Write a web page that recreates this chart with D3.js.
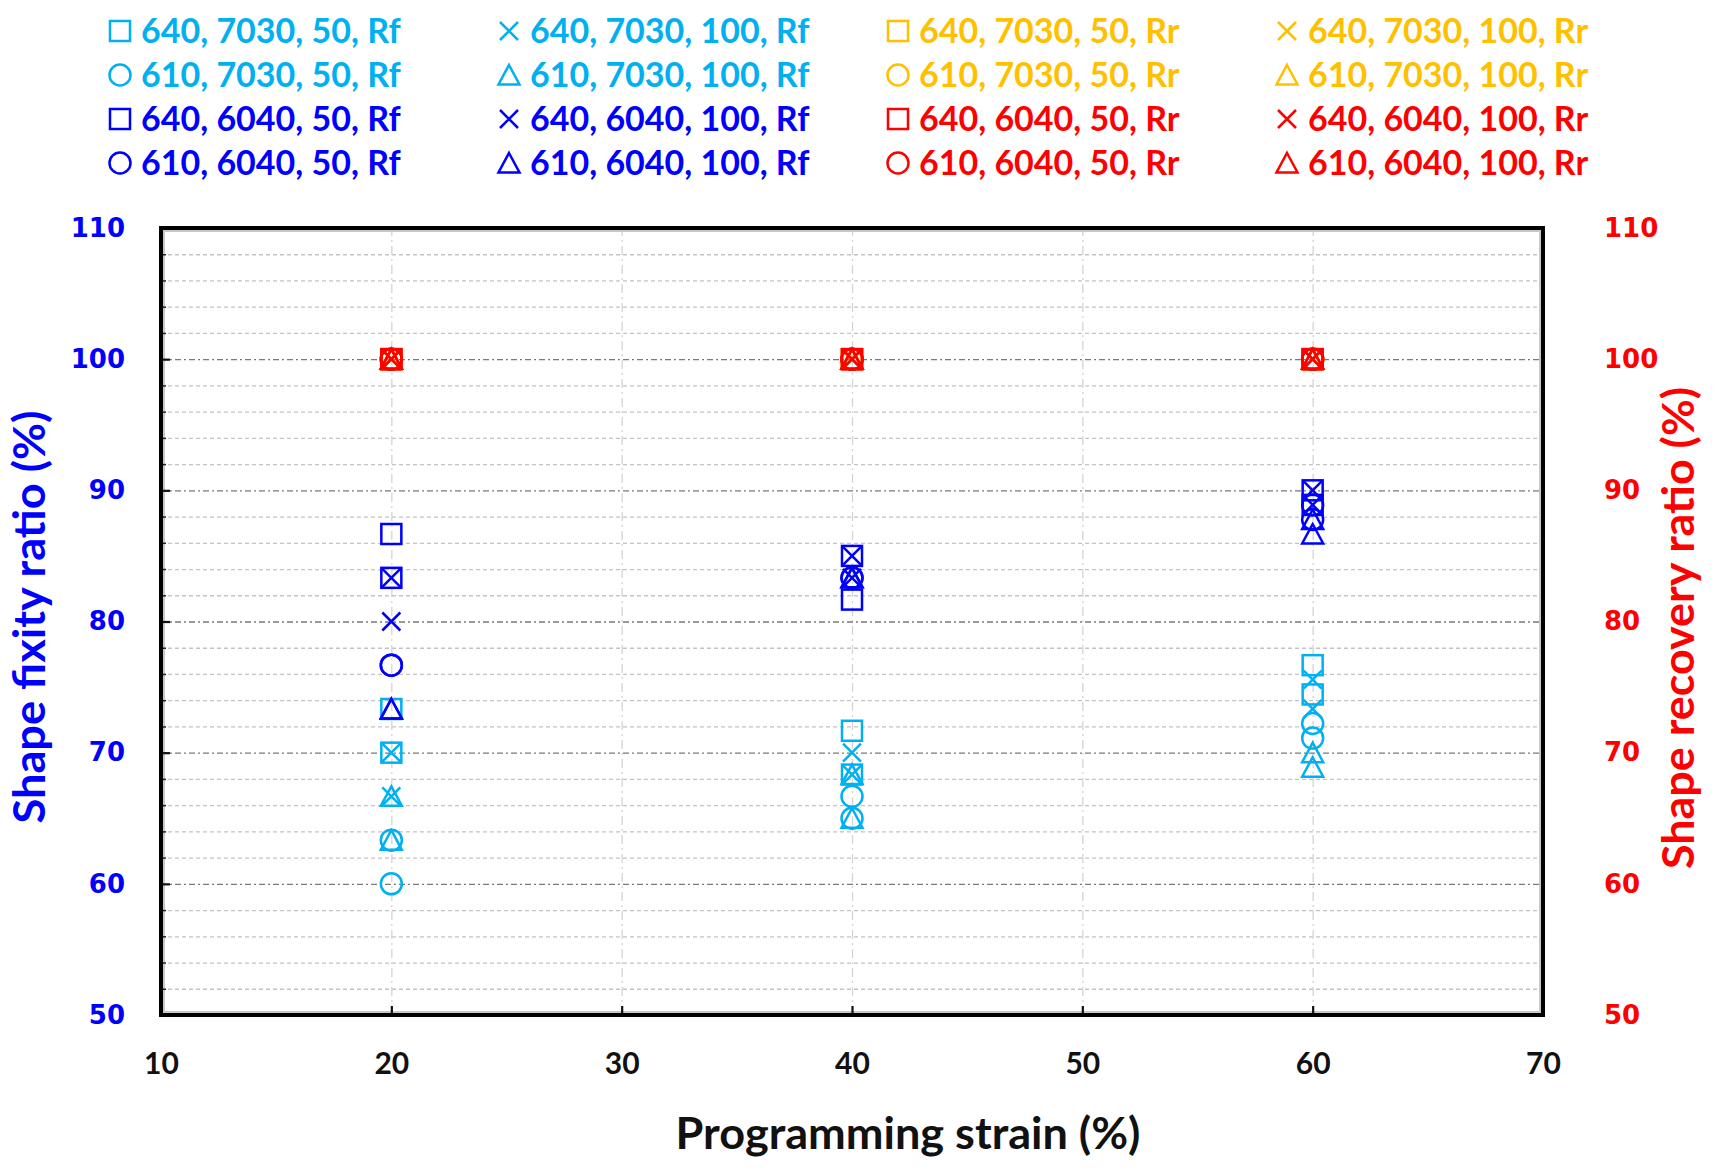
<!DOCTYPE html>
<html>
<head>
<meta charset="utf-8">
<script src="https://cdn.jsdelivr.net/npm/d3@7"></script>
<style>
  body { margin: 0; background: #fff; }
  svg { display: block; }
</style>
</head>
<body>
<div class="main"></div>
<script>
const width = 1716;
const height = 1174;
const plot = { left: 161, right: 1543, top: 228, bottom: 1015 };

const strains = [20, 40, 60];
const xTicks = [10, 20, 30, 40, 50, 60, 70];
const yTicks = [50, 60, 70, 80, 90, 100, 110];

// two readings per strain level (20, 40, 60 %)
const rf_640_7030_50 = [[73.33, 70.00], [71.67, 68.33], [76.67, 74.44]];
const rf_640_7030_100 = [[70.00, 66.67], [70.00, 68.33], [75.56, 73.33]];
const rf_610_7030_50 = [[63.33, 60.00], [66.67, 65.00], [72.22, 71.11]];
const rf_610_7030_100 = [[66.67, 63.33], [68.33, 65.00], [70.00, 68.89]];
const rf_640_6040_50 = [[86.67, 83.33], [85.00, 81.67], [90.00, 88.89]];
const rf_640_6040_100 = [[83.33, 80.00], [85.00, 83.33], [90.00, 88.89]];
const rf_610_6040_50 = [[76.67, 76.67], [83.33, 83.33], [88.89, 87.78]];
const rf_610_6040_100 = [[73.33, 73.33], [83.33, 83.33], [87.78, 86.67]];
const rr_640_7030_50 = [[100, 100], [100, 100], [100, 100]];
const rr_640_7030_100 = [[100, 100], [100, 100], [100, 100]];
const rr_610_7030_50 = [[100, 100], [100, 100], [100, 100]];
const rr_610_7030_100 = [[100, 100], [100, 100], [100, 100]];
const rr_640_6040_50 = [[100, 100], [100, 100], [100, 100]];
const rr_640_6040_100 = [[100, 100], [100, 100], [100, 100]];
const rr_610_6040_50 = [[100, 100], [100, 100], [100, 100]];
const rr_610_6040_100 = [[100, 100], [100, 100], [100, 100]];

// legend / drawing order (row by row, 4 per row)
const seriesNames = [
  "640, 7030, 50, Rf", "640, 7030, 100, Rf", "640, 7030, 50, Rr", "640, 7030, 100, Rr",
  "610, 7030, 50, Rf", "610, 7030, 100, Rf", "610, 7030, 50, Rr", "610, 7030, 100, Rr",
  "640, 6040, 50, Rf", "640, 6040, 100, Rf", "640, 6040, 50, Rr", "640, 6040, 100, Rr",
  "610, 6040, 50, Rf", "610, 6040, 100, Rf", "610, 6040, 50, Rr", "610, 6040, 100, Rr"
];
const seriesValues = [
  rf_640_7030_50, rf_640_7030_100, rr_640_7030_50, rr_640_7030_100,
  rf_610_7030_50, rf_610_7030_100, rr_610_7030_50, rr_610_7030_100,
  rf_640_6040_50, rf_640_6040_100, rr_640_6040_50, rr_640_6040_100,
  rf_610_6040_50, rf_610_6040_100, rr_610_6040_50, rr_610_6040_100
];

const colors = { "7030Rf": "#00B0F0", "6040Rf": "#0000FF", "7030Rr": "#FFC000", "6040Rr": "#FF0000" };
const shapes = { "64050": "square", "640100": "cross", "61050": "circle", "610100": "triangle" };

const series = seriesNames.map((name, i) => {
  const [t, ratio, flow, kind] = name.split(", ");
  return {
    name,
    kind,
    color: colors[ratio + kind],
    shape: shapes[t + flow],
    points: strains.flatMap((s, j) => seriesValues[i][j].map(v => ({ x: s, y: v })))
  };
});

const x = d3.scaleLinear().domain([10, 70]).range([plot.left, plot.right]);
const yLeft = d3.scaleLinear().domain([50, 110]).range([plot.bottom, plot.top]);
const yRight = d3.scaleLinear().domain([50, 110]).range([plot.bottom, plot.top]);

const svg = d3.select(".main").append("svg")
  .attr("width", width)
  .attr("height", height);

svg.append("rect").attr("width", width).attr("height", height).attr("fill", "#fff");

const plotW = plot.right - plot.left;
const plotH = plot.bottom - plot.top;

// minor horizontal grid
const minorY = d3.range(52, 110, 2).filter(v => v % 10 !== 0);
svg.append("g")
  .attr("transform", `translate(${plot.left},0)`)
  .call(d3.axisLeft(yLeft).tickValues(minorY).tickSize(-plotW).tickFormat(""))
  .call(g => g.select(".domain").remove())
  .selectAll("line")
    .attr("stroke", "#c4c4c4")
    .attr("stroke-width", 1.3)
    .attr("stroke-dasharray", "4,3");

// vertical grid
svg.append("g")
  .attr("transform", `translate(0,${plot.bottom})`)
  .call(d3.axisBottom(x).tickValues([20, 30, 40, 50, 60]).tickSize(-plotH).tickFormat(""))
  .call(g => g.select(".domain").remove())
  .selectAll("line")
    .attr("stroke", "#d4d4d4")
    .attr("stroke-width", 1.3)
    .attr("stroke-dasharray", "9,4,2,4");

// major horizontal grid
svg.append("g")
  .attr("transform", `translate(${plot.left},0)`)
  .call(d3.axisLeft(yLeft).tickValues([60, 70, 80, 90, 100]).tickSize(-plotW).tickFormat(""))
  .call(g => g.select(".domain").remove())
  .selectAll("line")
    .attr("stroke", "#7a7a7a")
    .attr("stroke-width", 1.4)
    .attr("stroke-dasharray", "6,3,2,3");

// inner shadow and frame
svg.append("rect")
  .attr("x", plot.left + 3).attr("y", plot.top + 3)
  .attr("width", plotW - 6).attr("height", plotH - 6)
  .attr("fill", "none").attr("stroke", "#c8c8c8").attr("stroke-width", 2);

// minor ticks, left
svg.append("g")
  .attr("transform", `translate(${plot.left},0)`)
  .call(d3.axisLeft(yLeft).tickValues(minorY).tickSize(-5).tickFormat(""))
  .call(g => g.select(".domain").remove())
  .selectAll("line").attr("stroke", "#222").attr("stroke-width", 1.5);

// left axis
svg.append("g")
  .attr("transform", `translate(${plot.left},0)`)
  .call(d3.axisLeft(yLeft).tickValues(yTicks).tickSize(-9).tickPadding(36))
  .call(g => g.select(".domain").remove())
  .call(g => g.selectAll("line").attr("stroke", "#111").attr("stroke-width", 2.2))
  .call(g => g.selectAll("text")
    .attr("fill", "#0000FF")
    .attr("font-family", "DejaVu Sans")
    .attr("font-weight", "bold")
    .attr("font-size", 26));

// right axis (labels only)
svg.append("g")
  .attr("transform", `translate(${plot.right},0)`)
  .call(d3.axisRight(yRight).tickValues(yTicks).tickSize(0).tickPadding(61))
  .call(g => g.select(".domain").remove())
  .call(g => g.selectAll("text")
    .attr("fill", "#FF0000")
    .attr("font-family", "DejaVu Sans")
    .attr("font-weight", "bold")
    .attr("font-size", 26));

// bottom axis
svg.append("g")
  .attr("transform", `translate(0,${plot.bottom})`)
  .call(d3.axisBottom(x).tickValues(xTicks).tickSize(-9).tickPadding(38))
  .call(g => g.select(".domain").remove())
  .call(g => g.selectAll("line").attr("stroke", "#111").attr("stroke-width", 2.2))
  .call(g => g.selectAll("text")
    .attr("fill", "#111")
    .attr("font-family", "Lato")
    .attr("font-weight", "bold")
    .attr("font-size", 30));

svg.append("rect")
  .attr("x", plot.left).attr("y", plot.top)
  .attr("width", plotW).attr("height", plotH)
  .attr("fill", "none").attr("stroke", "#000").attr("stroke-width", 4);

function drawMarker(g, shape, color) {
  let m;
  if (shape === "square") {
    m = g.append("rect").attr("x", -10).attr("y", -10).attr("width", 20).attr("height", 20);
  } else if (shape === "circle") {
    m = g.append("circle").attr("r", 10.5);
  } else if (shape === "cross") {
    m = g.append("path").attr("d", "M-9,-9L9,9M-9,9L9,-9");
  } else {
    m = g.append("path").attr("d", "M0,-10L10.5,9.5L-10.5,9.5Z");
  }
  m.attr("fill", "none").attr("stroke", color).attr("stroke-width", 2.5);
}

// markers
series.forEach(s => {
  const yScale = s.kind === "Rr" ? yRight : yLeft;
  svg.append("g")
    .selectAll("g")
    .data(s.points)
    .join("g")
      .attr("transform", d => `translate(${x(d.x)},${yScale(d.y)})`)
      .each(function () { drawMarker(d3.select(this), s.shape, s.color); });
});

// legend
const legend = svg.append("g");
series.forEach((s, i) => {
  const col = i % 4;
  const row = Math.floor(i / 4);
  const item = legend.append("g")
    .attr("transform", `translate(${120 + col * 389},${31 + row * 44})`);
  drawMarker(item, s.shape, s.color);
  item.append("text")
    .attr("x", 21)
    .attr("dy", "0.36em")
    .attr("fill", s.color)
    .attr("font-family", "Lato")
    .attr("font-weight", "bold")
    .attr("font-size", 34)
    .text(s.name);
});

// axis titles
svg.append("text")
  .attr("transform", "translate(45,617) rotate(-90)")
  .attr("text-anchor", "middle")
  .attr("fill", "#0000FF")
  .attr("font-family", "Lato")
  .attr("font-weight", "bold")
  .attr("font-size", 44)
  .attr("textLength", 413)
  .attr("lengthAdjust", "spacingAndGlyphs")
  .text("Shape fixity ratio (%)");

svg.append("text")
  .attr("transform", "translate(1694,628) rotate(-90)")
  .attr("text-anchor", "middle")
  .attr("fill", "#FF0000")
  .attr("font-family", "Lato")
  .attr("font-weight", "bold")
  .attr("font-size", 44)
  .attr("textLength", 482)
  .attr("lengthAdjust", "spacingAndGlyphs")
  .text("Shape recovery ratio (%)");

svg.append("text")
  .attr("x", 908)
  .attr("y", 1149)
  .attr("text-anchor", "middle")
  .attr("fill", "#111")
  .attr("font-family", "Lato")
  .attr("font-weight", "bold")
  .attr("font-size", 44)
  .attr("textLength", 465)
  .attr("lengthAdjust", "spacingAndGlyphs")
  .text("Programming strain (%)");
</script>
</body>
</html>
